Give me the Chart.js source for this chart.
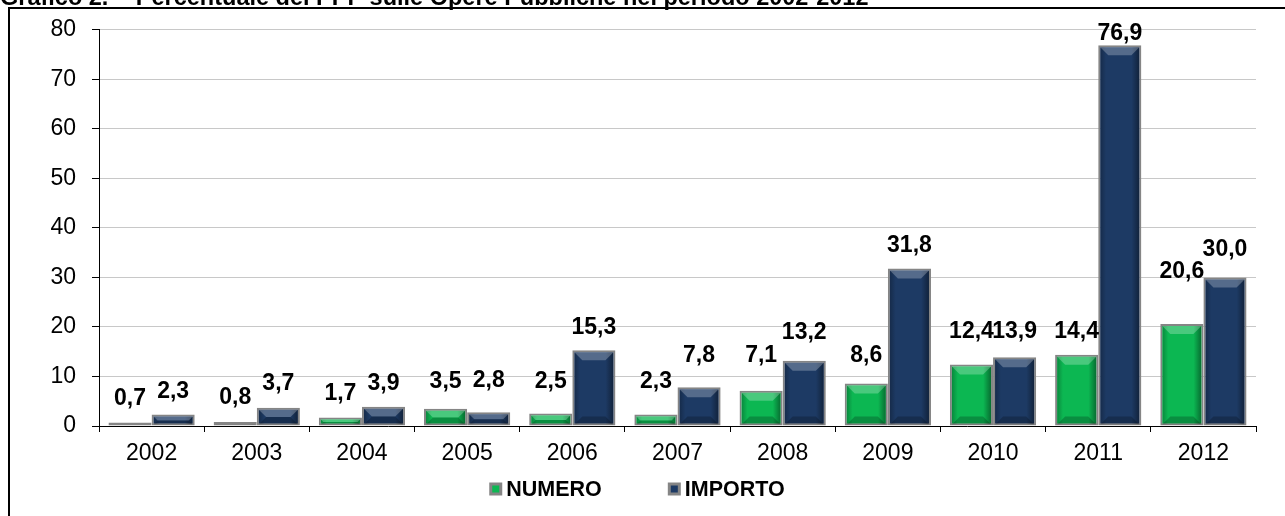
<!DOCTYPE html>
<html><head><meta charset="utf-8">
<script src="https://cdn.jsdelivr.net/npm/chart.js@4.4.1/dist/chart.umd.min.js"></script>
<style>html,body{margin:0;padding:0;background:#fff;overflow:hidden}#wrap{width:1285px;height:516px;position:relative}</style>
</head><body><div id="wrap"><canvas id="c" width="1285" height="516"></canvas></div>
<script>
const chartTitle = 'Grafico 2.  - Percentuale dei PPP sulle Opere Pubbliche nel periodo 2002-2012';
const years = ['2002','2003','2004','2005','2006','2007','2008','2009','2010','2011','2012'];
const seriesNames = ['NUMERO','IMPORTO'];
const numero  = [0.7, 0.8, 1.7, 3.5, 2.5, 2.3, 7.1, 8.6, 12.4, 14.4, 20.6];
const importo = [2.3, 3.7, 3.9, 2.8, 15.3, 7.8, 13.2, 31.8, 13.9, 76.9, 30.0];
const yMin = 0, yMax = 80, yStep = 10;
// label placement (px above bar top, to label centre)
const numeroLabelLift  = [24, 24, 24, 27, 32, 33, 35, 28, 33, 23, 52];
const importoLabelLift = [23, 24, 23, 31, 23, 32, 28, 23, 26, 11, 28];

const GREEN = '#0cb752', BLUE = '#1d3a64', EDGE = '#858585';
const FONT = '"Liberation Sans", Arial, sans-serif';

const framePlugin = {
  id: 'frame',
  beforeDraw(chart) {
    const ctx = chart.ctx;
    ctx.save();
    ctx.fillStyle = '#fff';
    ctx.fillRect(0, 0, chart.width, chart.height);
    ctx.fillStyle = '#000';
    ctx.font = 'bold 23.5px ' + FONT;
    ctx.textBaseline = 'alphabetic';
    ctx.textAlign = 'left';
    ctx.fillText(chartTitle, 0, 5);
    ctx.fillRect(8, 7, chart.width - 8, 2);
    ctx.fillRect(8, 7, 2, chart.height - 7);
    ctx.restore();
  }
};

const bevelPlugin = {
  id: 'bevel',
  afterDatasetsDraw(chart) {
    const ctx = chart.ctx;
    const lifts = [numeroLabelLift, importoLabelLift];
    chart.data.datasets.forEach((ds, di) => {
      const meta = chart.getDatasetMeta(di);
      meta.data.forEach((el) => {
        const w = el.width, x0 = el.x - w / 2 + 2, x1 = el.x + w / 2 - 2;
        const top = el.y + 2, bot = el.base - 1;
        const h = bot - top;
        if (h <= 0) return;
        ctx.save();
        ctx.beginPath(); ctx.rect(x0, top, x1 - x0, h); ctx.clip();
        const g = ctx.createLinearGradient(x0, 0, x1, 0);
        g.addColorStop(0, 'rgba(0,0,0,0.25)');
        g.addColorStop(0.15, 'rgba(0,0,0,0)');
        g.addColorStop(0.8, 'rgba(0,0,0,0)');
        g.addColorStop(1, 'rgba(0,0,0,0.4)');
        ctx.fillStyle = g;
        ctx.fillRect(x0, top, x1 - x0, h);
        const b = Math.min(8, h / 2);
        ctx.fillStyle = 'rgba(255,255,255,0.25)';
        ctx.beginPath();
        ctx.moveTo(x0, top); ctx.lineTo(x1, top); ctx.lineTo(x1 - b, top + b); ctx.lineTo(x0 + b, top + b);
        ctx.closePath(); ctx.fill();
        ctx.fillStyle = 'rgba(0,0,0,0.22)';
        ctx.beginPath();
        ctx.moveTo(x0, bot); ctx.lineTo(x1, bot); ctx.lineTo(x1 - b, bot - b); ctx.lineTo(x0 + b, bot - b);
        ctx.closePath(); ctx.fill();
        ctx.restore();
      });
    });
    ctx.save();
    ctx.fillStyle = '#000';
    ctx.font = 'bold 23px ' + FONT;
    ctx.textAlign = 'center';
    ctx.textBaseline = 'middle';
    chart.data.datasets.forEach((ds, di) => {
      const meta = chart.getDatasetMeta(di);
      meta.data.forEach((el, i) => {
        const txt = ds.data[i].toFixed(1).replace('.', ',');
        ctx.fillText(txt, el.x, el.y - lifts[di][i]);
      });
    });
    ctx.restore();
  },
  afterDraw(chart) {
    const ctx = chart.ctx;
    ctx.save();
    ctx.font = 'bold 21.5px ' + FONT;
    ctx.textBaseline = 'middle';
    ctx.textAlign = 'left';
    const box = 13, gap = 4, spacing = 66, cy = 489;
    const items = chart.data.datasets.map(d => ({ text: d.label, color: d.backgroundColor, w: ctx.measureText(d.label).width }));
    let total = 0;
    items.forEach((it, i) => { total += box + gap + it.w + (i ? spacing : 0); });
    let x = 637 - total / 2;
    items.forEach((it, i) => {
      if (i) x += spacing;
      ctx.fillStyle = EDGE;
      ctx.fillRect(x, cy - box / 2, box, box);
      ctx.fillStyle = it.color;
      ctx.fillRect(x + 3, cy - box / 2 + 3, box - 6, box - 6);
      x += box + gap;
      ctx.fillStyle = '#000';
      ctx.fillText(it.text, x, cy + 1);
      x += it.w;
    });
    ctx.restore();
  }
};

new Chart(document.getElementById('c'), {
  type: 'bar',
  data: {
    labels: years,
    datasets: [
      { label: seriesNames[0], data: numero, backgroundColor: GREEN, borderColor: EDGE, borderWidth: 2, borderSkipped: false },
      { label: seriesNames[1], data: importo, backgroundColor: BLUE, borderColor: EDGE, borderWidth: 2, borderSkipped: false }
    ]
  },
  options: {
    responsive: false,
    animation: false,
    devicePixelRatio: 1,
    layout: { padding: { left: 10, top: 22, right: 29, bottom: 56 } },
    datasets: { bar: { categoryPercentage: 0.82, barPercentage: 1.0 } },
    plugins: { legend: { display: false }, title: { display: false }, tooltip: { enabled: false } },
    scales: {
      x: {
        afterFit: (s) => { s.height = 34; },
        grid: { drawOnChartArea: false, drawTicks: true, tickLength: 6, tickColor: '#000', offset: true },
        border: { color: '#000', width: 1 },
        ticks: { color: '#000', font: { family: FONT, size: 23 }, padding: 8, maxRotation: 0, autoSkip: false }
      },
      y: {
        min: yMin, max: yMax,
        afterFit: (s) => { s.width = 89; },
        grid: { color: '#c8c8c8', lineWidth: 1, drawTicks: true, tickLength: 7, tickColor: '#000' },
        border: { color: '#000', width: 1 },
        ticks: { stepSize: yStep, color: '#000', font: { family: FONT, size: 23 }, padding: 16 }
      }
    }
  },
  plugins: [framePlugin, bevelPlugin]
});
</script>
</body></html>
